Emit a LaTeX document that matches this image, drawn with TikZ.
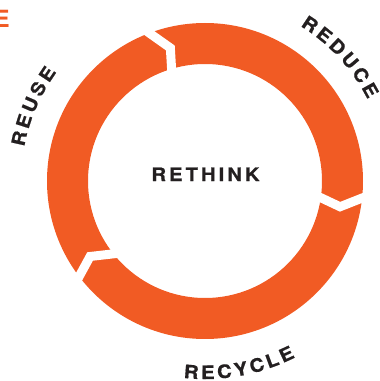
\documentclass[tikz,border=0pt]{standalone}
\usepackage{fontspec}
\newfontfamily\lblfont[LetterSpace=16,FakeStretch=1.1,FakeBold=0.8]{TeX Gyre Heros}
\newfontfamily\arcfont[FakeStretch=1.1,FakeBold=0.8]{TeX Gyre Heros}
\newfontfamily\plainfont{TeX Gyre Heros}
\usetikzlibrary{decorations.text,calc}
\definecolor{ringorange}{RGB}{241,91,36}
\definecolor{txtdark}{RGB}{35,31,32}
\begin{document}
\begin{tikzpicture}[x=1pt,y=1pt,
  ringfill/.style={fill=ringorange, even odd rule},
  cut/.style={draw=white, line width=9pt, miter limit=10, line join=miter},
  lbl/.style={font=\lblfont\bfseries\fontsize{18.5}{18.5}\selectfont, text=txtdark, inner sep=0pt},
  arctext/.style={decorate, decoration={text along path, text align=center, text color=txtdark,
     text={|\arcfont\bfseries\fontsize{18.5}{18.5}\selectfont\kern3pt|#1}}}
]
\useasboundingbox (0,0) rectangle (380,381);
\coordinate (c) at (205,200);
\begin{scope}[shift={(c)}]
  \fill[ringfill] (0,0) circle[radius=158] (0,0) circle[radius=117];
  % gap 1 (top left)
  \coordinate (o1) at (110.6:158); \coordinate (t1) at (104.6:137.5); \coordinate (i1) at (106.6:117);
  \draw[cut] ($(t1)!1.5!(o1)$) -- (t1) -- ($(t1)!1.5!(i1)$);
  % gap 2 (right)
  \coordinate (o2) at (-6.2:158); \coordinate (t2) at (-10.8:137.5); \coordinate (i2) at (-8.2:117);
  \draw[cut] ($(t2)!1.5!(o2)$) -- (t2) -- ($(t2)!1.5!(i2)$);
  % gap 3 (bottom left)
  \coordinate (o3) at (217.2:158); \coordinate (t3) at (213.3:137.5); \coordinate (i3) at (218.5:117);
  \draw[cut] ($(t3)!1.5!(o3)$) -- (t3) -- ($(t3)!1.5!(i3)$);
  % curved labels
  \path[arctext={REDUCE}] (65:182) arc[start angle=65, end angle=21, radius=182];
  \path[arctext={REUSE}] (179:184) arc[start angle=179, end angle=135, radius=184];
  \path[arctext={RECYCLE}] (-108:198) arc[start angle=-108, end angle=-52, radius=198];
\end{scope}
\node[lbl] (rethink) at (205.5,206.7) {RETHINK};
\node[font=\plainfont\bfseries\fontsize{23.7}{23.7}\selectfont, text=ringorange, anchor=base east, inner sep=0pt] (etitle) at (10,353) {E};
\end{tikzpicture}
\end{document}
